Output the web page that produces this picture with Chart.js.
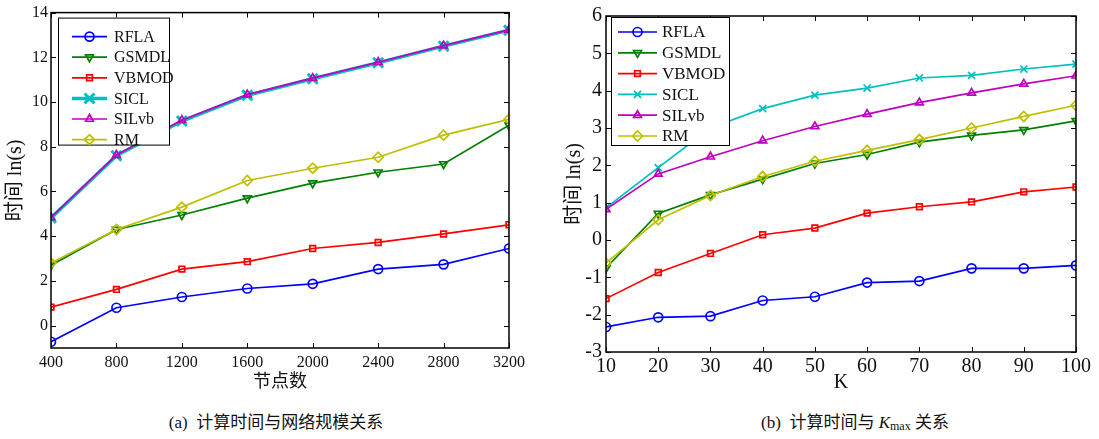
<!DOCTYPE html>
<html>
<head>
<meta charset="utf-8">
<script src="https://cdn.jsdelivr.net/npm/chart.js@4.4.1/dist/chart.umd.min.js"></script>
<style>
  body { margin: 0; background: #fff; width: 1099px; height: 439px; position: relative; overflow: hidden; }
  .wrap { position: absolute; top: 0; }
  .cap { position: absolute; top: 408px; font: 17px 'Liberation Serif', 'Noto Sans CJK SC', serif; color: #111; white-space: nowrap; transform: translateX(-50%); }
  .cap sub { font-size: 12px; vertical-align: -2px; }
</style>
</head>
<body>
<div class="wrap" style="left:0"><canvas id="ca" width="540" height="400"></canvas></div>
<div class="wrap" style="left:555px"><canvas id="cb" width="544" height="400"></canvas></div>
<div class="cap" style="left:276px">(a)&nbsp; 计算时间与网络规模关系</div>
<div class="cap" style="left:855px">(b)&nbsp; 计算时间与 <i>K</i><sub>max</sub> 关系</div>
<script>
// series names
const names = ['RFLA', 'GSMDL', 'VBMOD', 'SICL', 'SILvb', 'RM'];

// (a) time vs. number of nodes
const nodesA = [400, 800, 1200, 1600, 2000, 2400, 2800, 3200];
const rflaA  = [-0.72, 0.80, 1.28, 1.66, 1.87, 2.53, 2.74, 3.45];
const gsmdlA = [2.70, 4.30, 4.95, 5.70, 6.37, 6.86, 7.23, 8.96];
const vbmodA = [0.83, 1.62, 2.53, 2.86, 3.45, 3.72, 4.10, 4.51];
const siclA  = [4.82, 7.60, 9.15, 10.30, 11.04, 11.76, 12.50, 13.21];
const silvbA = [4.84, 7.63, 9.19, 10.33, 11.07, 11.78, 12.52, 13.23];
const rmA    = [2.80, 4.30, 5.30, 6.49, 7.04, 7.53, 8.52, 9.23];
const yTicksA = [0, 2, 4, 6, 8, 10, 12, 14];

// (b) time vs. Kmax
const kB     = [10, 20, 30, 40, 50, 60, 70, 80, 90, 100];
const rflaB  = [-2.33, -2.07, -2.04, -1.62, -1.52, -1.14, -1.10, -0.76, -0.76, -0.68];
const gsmdlB = [-0.75, 0.71, 1.21, 1.63, 2.05, 2.29, 2.62, 2.80, 2.95, 3.19];
const vbmodB = [-1.57, -0.87, -0.36, 0.14, 0.32, 0.72, 0.89, 1.02, 1.29, 1.42];
const siclB  = [0.86, 1.94, 3.00, 3.52, 3.88, 4.07, 4.34, 4.41, 4.58, 4.71];
const silvbB = [0.82, 1.77, 2.23, 2.66, 3.04, 3.37, 3.68, 3.94, 4.18, 4.40];
const rmB    = [-0.62, 0.54, 1.19, 1.70, 2.11, 2.40, 2.69, 3.00, 3.31, 3.61];
const yTicksB = [-3, -2, -1, 0, 1, 2, 3, 4, 5, 6];

const SERIF = "'Liberation Serif', 'Noto Sans CJK SC', serif";
const colors = ['#0000ff', '#008000', '#ff0000', '#00bfbf', '#bf00bf', '#bfbf00'];
const styles = ['circle', 'triangle', 'rect', 'crossRot', 'triangle', 'rectRot'];
const rotations = [0, 180, 0, 0, 0, 0];

function makeSets(xs, series, thickSicl) {
  return series.map((ys, i) => {
    const thick = thickSicl && i === 3;
    const r = i === 2 ? 4 : (i === 3 ? (thick ? 7 : 5) : (i === 5 ? 5 : 4.5));
    return {
      label: names[i],
      data: xs.map((x, j) => ({ x, y: ys[j] })),
      borderColor: colors[i],
      backgroundColor: 'rgba(0,0,0,0)',
      pointBorderColor: colors[i],
      pointBackgroundColor: 'rgba(0,0,0,0)',
      borderWidth: thick ? 3.5 : 1.7,
      pointBorderWidth: thick ? 3 : 1.7,
      pointStyle: styles[i],
      pointRotation: rotations[i],
      pointRadius: r,
      tension: 0,
      order: series.length - i
    };
  });
}

// box around the plot area with inward ticks on all four sides
const boxPlugin = {
  id: 'matBox',
  afterDatasetsDraw(chart) {
    const { ctx, chartArea: a, scales } = chart;
    ctx.save();
    ctx.strokeStyle = '#000';
    ctx.lineWidth = 1.5;
    ctx.strokeRect(a.left, a.top, a.right - a.left, a.bottom - a.top);
    ctx.lineWidth = 1;
    ctx.beginPath();
    scales.x.ticks.forEach(t => {
      const px = Math.round(scales.x.getPixelForValue(t.value)) + 0.5;
      ctx.moveTo(px, a.bottom); ctx.lineTo(px, a.bottom - 5);
      ctx.moveTo(px, a.top); ctx.lineTo(px, a.top + 5);
    });
    scales.y.ticks.forEach(t => {
      const py = Math.round(scales.y.getPixelForValue(t.value)) + 0.5;
      ctx.moveTo(a.left, py); ctx.lineTo(a.left + 5, py);
      ctx.moveTo(a.right, py); ctx.lineTo(a.right - 5, py);
    });
    ctx.stroke();
    ctx.restore();
  }
};

// MATLAB-like legend: line sample with marker in the middle
const legendPlugin = {
  id: 'matLegend',
  afterDatasetsDraw(chart, args, o) {
    const { ctx, chartArea: a } = chart;
    const bx = a.left + o.dx, by = a.top + o.dy;
    ctx.save();
    ctx.fillStyle = '#fff';
    ctx.fillRect(bx, by, o.w, o.h);
    ctx.strokeStyle = '#000';
    ctx.lineWidth = 1;
    ctx.strokeRect(bx + 0.5, by + 0.5, o.w, o.h);
    ctx.font = o.size + 'px ' + SERIF;
    ctx.textBaseline = 'middle';
    chart.data.datasets.forEach((ds, i) => {
      const y = by + o.first + i * o.row;
      ctx.strokeStyle = ds.borderColor;
      ctx.lineWidth = ds.borderWidth;
      ctx.beginPath();
      ctx.moveTo(bx + o.l0, y); ctx.lineTo(bx + o.l1, y);
      ctx.stroke();
      ctx.fillStyle = 'rgba(0,0,0,0)';
      ctx.lineWidth = ds.pointBorderWidth;
      Chart.helpers.drawPoint(ctx, {
        pointStyle: ds.pointStyle, rotation: ds.pointRotation,
        radius: ds.pointRadius, borderWidth: ds.pointBorderWidth
      }, bx + (o.l0 + o.l1) / 2, y);
      ctx.fillStyle = '#111';
      ctx.fillText(ds.label, bx + o.tx, y + 1);
    });
    ctx.restore();
  }
};

function makeChart(id, cfg) {
  return new Chart(document.getElementById(id), {
    type: 'line',
    data: { datasets: makeSets(cfg.xs, cfg.series, cfg.thick) },
    options: {
      responsive: false,
      animation: false,
      layout: { padding: { left: 0, top: cfg.padTop, right: cfg.padRight, bottom: 0 } },
      plugins: { legend: { display: false }, tooltip: { enabled: false }, matLegend: cfg.legend },
      scales: {
        x: {
          type: 'linear', min: cfg.xs[0], max: cfg.xs[cfg.xs.length - 1],
          afterBuildTicks: s => { s.ticks = cfg.xs.map(v => ({ value: v })); },
          afterFit: s => { s.height = cfg.xH; },
          grid: { display: false, drawTicks: false },
          border: { display: false },
          ticks: { color: '#111', font: { family: SERIF, size: cfg.tickSize }, padding: cfg.xPad, maxRotation: 0, autoSkip: false, callback: v => String(v) },
          title: { display: true, text: cfg.xTitle, color: '#111', font: { family: SERIF, size: cfg.xTitleSize }, padding: { top: 0, bottom: cfg.xTitlePad } }
        },
        y: {
          min: cfg.yMin, max: cfg.yMax,
          afterBuildTicks: s => { s.ticks = cfg.yTicks.map(v => ({ value: v })); },
          afterFit: s => { s.width = 51; },
          grid: { display: false, drawTicks: false },
          border: { display: false },
          ticks: { color: '#111', font: { family: SERIF, size: cfg.tickSize }, padding: cfg.yPad, callback: v => String(v) },
          title: { display: true, text: '时间 ln(s)', color: '#111', font: { family: SERIF, size: 20 }, padding: { top: cfg.yTitlePad, bottom: cfg.yTitlePad } }
        }
      }
    },
    plugins: [boxPlugin, legendPlugin]
  });
}

makeChart('ca', {
  xs: nodesA, series: [rflaA, gsmdlA, vbmodA, siclA, silvbA, rmA], thick: true,
  yMin: -1, yMax: 14, yTicks: yTicksA,
  padTop: 10, padRight: 31, xH: 52, tickSize: 16, xPad: 5, yPad: 3, yTitlePad: 4,
  xTitle: '节点数', xTitleSize: 18, xTitlePad: 7,
  legend: { dx: 7, dy: 5, w: 111, h: 127, first: 19, row: 20.6, l0: 14, l1: 49, tx: 56, size: 16 }
});

makeChart('cb', {
  xs: kB, series: [rflaB, gsmdlB, vbmodB, siclB, silvbB, rmB], thick: false,
  yMin: -3, yMax: 6, yTicks: yTicksB,
  padTop: 13, padRight: 23, xH: 48, tickSize: 20, xPad: 3, yPad: 4, yTitlePad: 8,
  xTitle: 'K', xTitleSize: 20, xTitlePad: 5,
  legend: { dx: 5, dy: 1, w: 118, h: 128, first: 15, row: 20.8, l0: 7, l1: 46, tx: 51, size: 17 }
});
</script>
</body>
</html>
